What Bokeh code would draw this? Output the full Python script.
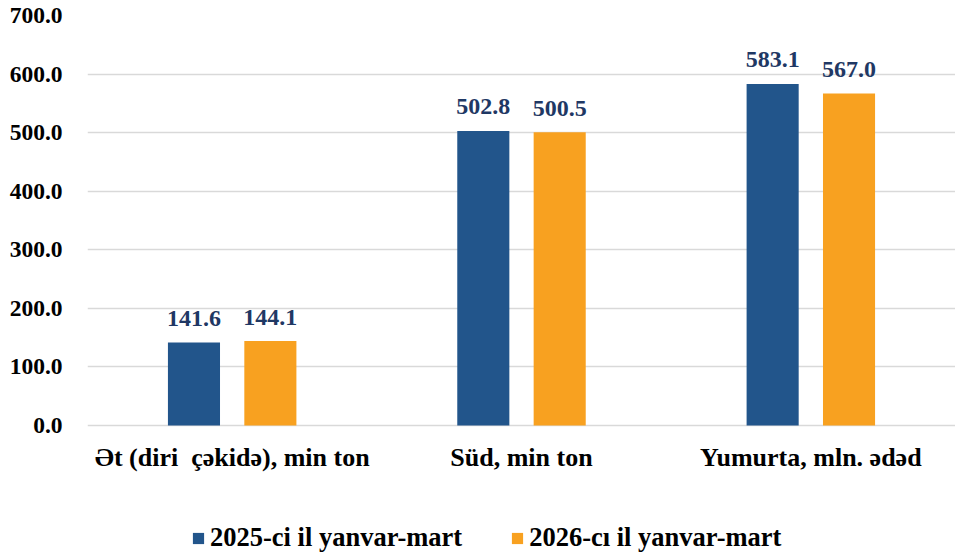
from bokeh.plotting import figure
from bokeh.models import Range1d, FixedTicker, Legend, LegendItem, ColumnDataSource, LabelSet
from bokeh.embed import file_html
from bokeh.resources import INLINE

categories = ["Ət (diri \u00a0çəkidə), min ton", "Süd, min ton", "Yumurta, mln. ədəd"]
values_2025 = [141.6, 502.8, 583.1]
values_2026 = [144.1, 500.5, 567.0]
series_names = ["2025-ci il yanvar-mart", "2026-cı il yanvar-mart"]
y_ticks = [0, 100, 200, 300, 400, 500, 600, 700]

BLUE = "#22558B"
ORANGE = "#F8A120"
LABEL = "#1F3864"
FONT = "Liberation Serif"

centers = [i + 0.5 for i in range(len(categories))]
off = 0.132
bw = 0.18

src = ColumnDataSource(dict(
    x1=[c - off for c in centers], x2=[c + off for c in centers],
    v1=values_2025, v2=values_2026,
    t1=[f"{v:.1f}" for v in values_2025], t2=[f"{v:.1f}" for v in values_2026],
))
cat_src = ColumnDataSource(dict(x=centers, y=[0] * len(centers), t=categories))

p = figure(width=955, height=556, output_backend="svg", toolbar_location=None,
           x_range=Range1d(0, 3), y_range=Range1d(-223.7, 700),
           min_border_left=87, min_border_right=0, min_border_top=15, min_border_bottom=0)
p.outline_line_color = None
p.xaxis.visible = False

r1 = p.vbar(x="x1", top="v1", width=bw, source=src, fill_color=BLUE, line_color=None)
r2 = p.vbar(x="x2", top="v2", width=bw, source=src, fill_color=ORANGE, line_color=None)

for xc, yc, tc in (("x1", "v1", "t1"), ("x2", "v2", "t2")):
    p.add_layout(LabelSet(x=xc, y=yc, text=tc, source=src, text_align="center",
                          text_baseline="alphabetic", y_offset=16.5,
                          text_font=FONT, text_font_style="bold",
                          text_font_size="24px", text_color=LABEL))

p.add_layout(LabelSet(x="x", y="y", text="t", source=cat_src, text_align="center",
                      text_baseline="alphabetic", y_offset=-41,
                      text_font=FONT, text_font_style="bold",
                      text_font_size="26px", text_color="#000000"))

p.xgrid.visible = False
p.ygrid.ticker = FixedTicker(ticks=y_ticks)
p.ygrid.grid_line_color = "#D9D9D9"
p.ygrid.grid_line_width = 1.5

p.yaxis.ticker = FixedTicker(ticks=y_ticks)
p.yaxis.major_label_overrides = {t: f"{t:.1f}" for t in y_ticks}
p.yaxis.axis_line_color = None
p.yaxis.major_tick_line_color = None
p.yaxis.minor_tick_line_color = None
p.yaxis.major_label_standoff = 19
p.yaxis.major_label_text_font = FONT
p.yaxis.major_label_text_font_style = "bold"
p.yaxis.major_label_text_font_size = "23.5px"
p.yaxis.major_label_text_color = "#000000"

legend = Legend(items=[LegendItem(label=series_names[0], renderers=[r1]),
                       LegendItem(label=series_names[1], renderers=[r2])],
                orientation="horizontal", location=(104, 3),
                glyph_width=14, glyph_height=14, label_standoff=5, spacing=48,
                padding=0, margin=0, border_line_color=None, background_fill_alpha=0,
                label_text_font=FONT, label_text_font_style="bold",
                label_text_font_size="26.5px", label_text_color="#000000")
p.add_layout(legend, "center")

open("out.html", "w").write(file_html(p, INLINE))
